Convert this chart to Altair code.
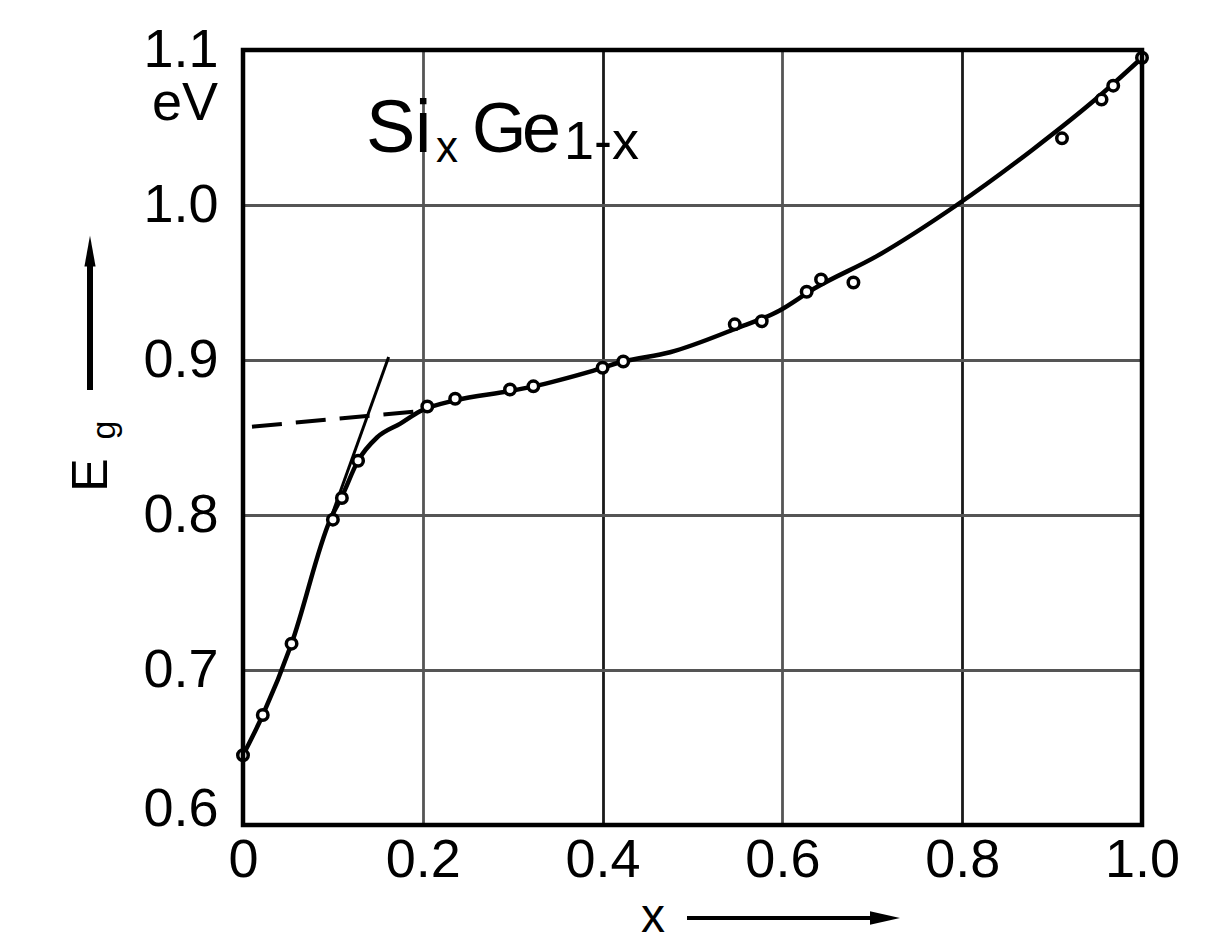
import altair as alt
import pandas as pd

# ---- data ----
pts_x = [0.0, 0.022, 0.054, 0.100, 0.110, 0.128, 0.205, 0.236, 0.297, 0.323,
         0.400, 0.423, 0.547, 0.577, 0.627, 0.643, 0.679, 0.911, 0.955, 0.968, 1.0]
pts_y = [0.645, 0.671, 0.717, 0.797, 0.811, 0.835, 0.870, 0.875, 0.881, 0.883,
         0.895, 0.899, 0.923, 0.925, 0.944, 0.952, 0.950, 1.043, 1.068, 1.077, 1.095]

curve_x = [0.0, 0.022, 0.054, 0.097, 0.110, 0.128, 0.149, 0.175, 0.197, 0.236,
           0.297, 0.323, 0.389, 0.423, 0.475, 0.547, 0.597, 0.635, 0.705, 0.794,
           0.879, 0.950, 1.0]
curve_y = [0.645, 0.671, 0.717, 0.797, 0.812, 0.835, 0.850, 0.859, 0.867, 0.874,
           0.880, 0.883, 0.893, 0.899, 0.905, 0.920, 0.932, 0.946, 0.967, 1.000,
           1.036, 1.069, 1.095]

dash_x = [0.010, 0.197]
dash_y = [0.857, 0.867]

tang_x = [0.097, 0.162]
tang_y = [0.797, 0.902]

x_ticks = [0, 0.2, 0.4, 0.6, 0.8, 1.0]
y_ticks = [0.6, 0.7, 0.8, 0.9, 1.0, 1.1]

W, H = 899, 775
FONT = "Liberation Sans"

pts = pd.DataFrame({"x": pts_x, "y": pts_y})
curve = pd.DataFrame({"x": curve_x, "y": curve_y})
dash = pd.DataFrame({"x": dash_x, "y": dash_y})
tang = pd.DataFrame({"x": tang_x, "y": tang_y})
one = pd.DataFrame({"k": [0]})

xs = alt.Scale(domain=[0, 1], nice=False, zero=False)
ys = alt.Scale(domain=[0.6, 1.1], nice=False, zero=False)

x_axis = alt.Axis(values=x_ticks, grid=True,
                  gridColor={"condition": {"test": "datum.value == 0.4 || datum.value == 0.8",
                                           "value": "#1a1a1a"},
                             "value": "#555555"},
                  gridWidth=2.8,
                  ticks=False, domain=False, labelFont=FONT, labelFontSize=54,
                  labelColor="black", labelPadding=8, labelFlush=False,
                  labelOverlap=False, labelBound=False, title=None,
                  labelExpr="datum.value == 0 ? '0' : format(datum.value, '.1f')")
y_axis = alt.Axis(values=y_ticks, grid=True, gridColor="#555555", gridWidth=2.8,
                  ticks=False, domain=False, labelFont=FONT, labelFontSize=54,
                  labelColor="black", labelPadding=25, labelFlush=False,
                  labelOverlap=False, labelBound=False, title=None,
                  labelBaseline={"condition": {"test": "datum.value < 0.65", "value": "alphabetic"},
                                 "value": "middle"},
                  labelExpr="format(datum.value, '.1f')")

X = alt.X("x:Q", scale=xs, axis=x_axis)
Y = alt.Y("y:Q", scale=ys, axis=y_axis)
Xn = alt.X("x:Q", scale=xs)
Yn = alt.Y("y:Q", scale=ys)

base_axes = alt.Chart(curve).mark_line(opacity=0).encode(x=X, y=Y)

tang_line = alt.Chart(tang).mark_line(color="black", strokeWidth=3).encode(x=Xn, y=Yn)
dash_line = alt.Chart(dash).mark_line(color="black", strokeWidth=4,
                                      strokeDash=[30, 14]).encode(x=Xn, y=Yn)
curve_line = alt.Chart(curve).mark_line(color="black", strokeWidth=4.5,
                                        interpolate="monotone").encode(x=Xn, y=Yn)
points = alt.Chart(pts).mark_point(shape="circle", size=110, filled=True, fill="white",
                                   stroke="black", strokeWidth=3.5, opacity=1).encode(x=Xn, y=Yn)

frame = alt.Chart(one).mark_rect(fillOpacity=0, stroke="black", strokeWidth=4.5).encode(
    x=alt.value(0), x2=alt.value(W), y=alt.value(0), y2=alt.value(H))

def txt(s, x, y, size, align="left", baseline="alphabetic", angle=0):
    kw = dict(text=s, font=FONT, fontSize=size, align=align, baseline=baseline, color="black")
    if angle:
        kw["angle"] = angle
    return alt.Chart(one).mark_text(**kw).encode(x=alt.value(x), y=alt.value(y))

# title Si_x Ge_1-x
t_S = txt("S", 123, 102, 74)
t_i = txt("i", 172, 102, 74)
t_x = txt("x", 193, 112, 44)
t_G = txt("G", 229, 102, 70)
t_e = txt("e", 279, 102, 70)
t_1x = txt("1-x", 321, 109, 54)

# eV unit under 1.1
t_ev = txt("eV", -25, 70, 54, align="right")

# y axis symbol E_g with arrow
t_E = txt("E", -151, 425, 50, align="center", baseline="middle", angle=270)
t_g = txt("g", -138, 380, 34, align="center", baseline="middle", angle=270)
y_shaft = alt.Chart(one).mark_rule(color="black", strokeWidth=6).encode(
    x=alt.value(-153), y=alt.value(212), y2=alt.value(340))
y_head = alt.Chart(one).mark_point(shape="M0,-1L0.36,1L-0.36,1Z", size=961, filled=True,
                                   color="black", opacity=1).encode(
    x=alt.value(-153), y=alt.value(201))

# x axis title with arrow
t_xl = txt("x", 410, 868, 48, align="center", baseline="middle")
x_shaft = alt.Chart(one).mark_rule(color="black", strokeWidth=4).encode(
    x=alt.value(444), x2=alt.value(640), y=alt.value(868))
x_head = alt.Chart(one).mark_point(shape="M1,0L-1,-0.45L-1,0.45Z", size=900, filled=True,
                                   color="black", opacity=1).encode(
    x=alt.value(642), y=alt.value(868))

chart = alt.layer(
    base_axes, tang_line, dash_line, curve_line, points, frame,
    t_S, t_i, t_x, t_G, t_e, t_1x, t_ev, t_E, t_g, y_shaft, y_head, t_xl, x_shaft, x_head
).properties(
    width=W, height=H,
    autosize=alt.AutoSizeParams(type="none"),
    padding={"left": 235, "top": 42, "right": 50, "bottom": 118},
    background="white",
).configure_view(stroke=None)

chart.save("out.html", embed_options={"renderer": "svg", "actions": False})
